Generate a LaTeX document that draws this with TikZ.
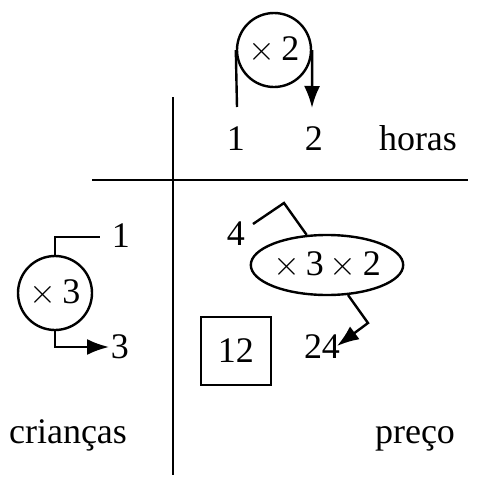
\documentclass[tikz,border=0pt]{standalone}
\usepackage{fontspec}
\setmainfont{Liberation Serif}
\usepackage{tikz}
\usetikzlibrary{arrows.meta,positioning,calc,shapes.geometric}

\begin{document}
\begin{tikzpicture}[
  x=0.5pt,y=-0.5pt,
  font=\fontsize{18}{20}\selectfont,
  line width=1.2pt,
  op/.style={circle,draw,minimum size=37pt,inner sep=0pt},
  opl/.style={ellipse,draw,minimum width=65pt,minimum height=30pt,inner sep=0pt},
  num/.style={inner sep=0pt,anchor=base},
  word/.style={inner sep=0pt,anchor=base},
  cell/.style={rectangle,draw,minimum width=35pt,minimum height=34pt},
  >={Latex[length=11pt,width=8pt]}
]
\useasboundingbox (0,0) rectangle (478,477);
% axes
\coordinate (vtop) at (173,97);
\coordinate (vbot) at (173,475);
\coordinate (hl) at (92,180);
\coordinate (hr) at (468,180);
\draw (vtop)--(vbot);
\draw (hl)--(hr);
% top: horas
\node[op] (t2) at (274,50) {$\times$\,2};
\node[num] (h1) at (236,150) {1};
\node[num] (h2) at (314,150) {2};
\node[word] (hor) at (418,150) {horas};
\coordinate (h1up) at (237,107);
\coordinate (h2up) at (312,108);
\draw (t2.west)--(h1up);
\draw[->] (t2.east)--(h2up);
% left: criancas
\node[op] (c3) at (55,293) {$\times$\,3};
\node[num] (l1) at (121,247) {1};
\node[num] (l3) at (120,358) {3};
\node[word] (cri) at (68,443) {crianças};
\coordinate (l1in) at (100,237);
\coordinate (l3in) at (109,347);
\draw (c3.north)|-(l1in);
\draw[->] (c3.south)|-(l3in);
% right: preco
\node[opl] (e) at (327,265) {$\times$\,3\,$\times$\,2};
\node[num] (p4) at (236,245) {4};
\node[num] (p24) at (322,358) {24};
\node[cell] (b12) at (236,351) {12};
\node[word] (pre) at (415,443) {preço};
\coordinate (p4out) at (253,224);
\coordinate (kink1) at (284,203);
\coordinate (kink2) at (368,323);
\coordinate (p24in) at (337,346);
\draw (p4out)--(kink1)--(e.124);
\draw[->] (e.-55)--(kink2)--(p24in);
\end{tikzpicture}
\end{document}
